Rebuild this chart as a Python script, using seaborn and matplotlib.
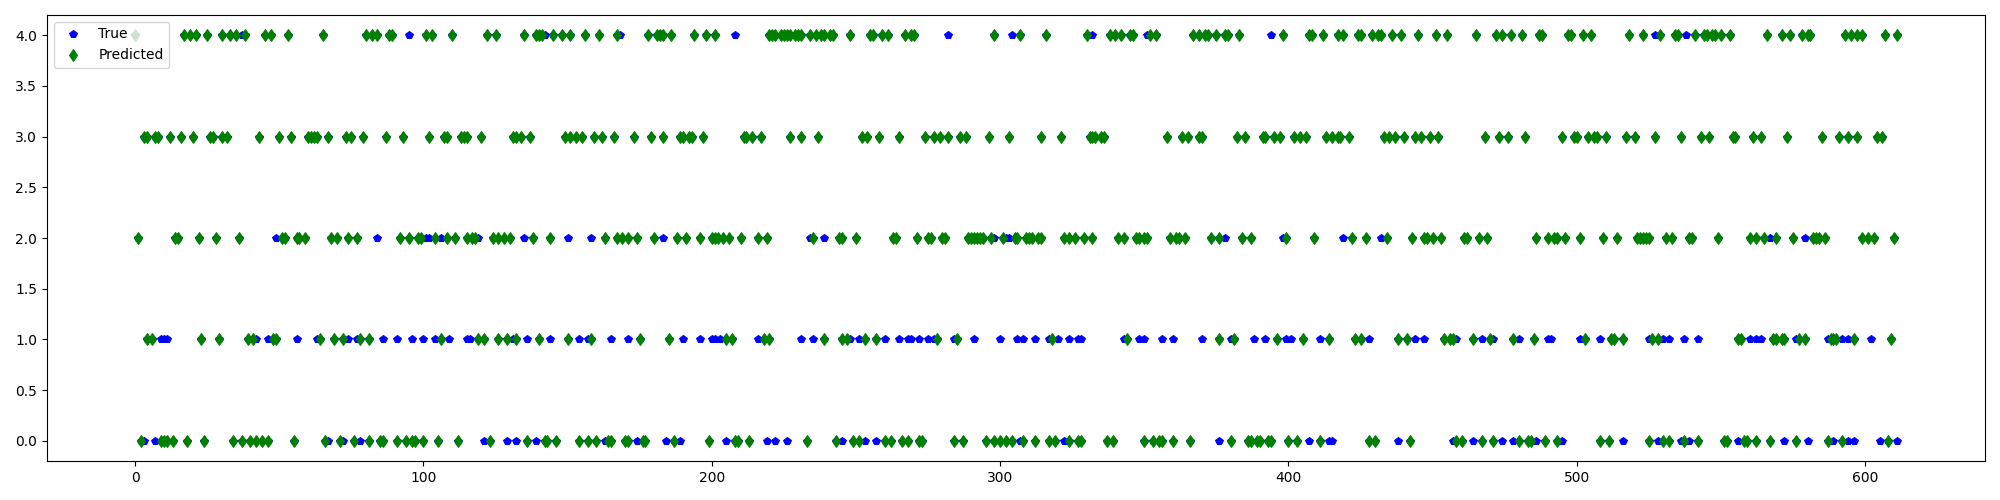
import matplotlib
matplotlib.use('Agg')
import matplotlib.pyplot as plt
import seaborn as sns

# predicted class per sample index, grouped by class (green diamonds)
pred_0 = [2, 9, 10, 11, 13, 18, 24, 34, 37, 40, 42, 44, 46, 55, 66, 71, 76, 81,
          85, 86, 91, 94, 96, 97, 100, 105, 112, 123, 136, 142, 143, 146, 154, 157, 160, 164, 165, 170, 171, 176, 177, 187,
          199, 208, 209, 213, 233, 243, 249, 251, 260, 262, 266, 268, 272, 273, 284, 287, 295, 298, 300, 302,
          304, 308, 312, 317, 319, 324, 327, 328, 337, 339, 350, 353, 355, 356, 360, 366, 380, 386, 387, 389, 390, 393, 394, 400, 403, 411,
          428, 430, 442, 458, 460, 467, 471, 480, 483, 484, 489, 493, 508, 511, 525,
          530, 532, 537, 542, 551, 552, 558, 559, 562, 567, 576, 587, 592, 608]
pred_1 = [4, 6, 23, 29, 39, 41, 48, 49, 64, 69, 72, 78, 81,
          106, 119, 121, 126, 129, 132, 140, 150, 158, 175, 185,
          205, 207, 218, 220, 239, 245, 247, 253, 257, 278, 285,
          318, 344, 376, 381, 396, 405, 414,
          423, 425, 438, 441, 454, 456, 457, 464, 470, 478, 485, 503, 512, 513, 516,
          526, 528, 556, 557, 568, 569, 571, 572, 577, 579, 588, 589, 590, 596, 609]
pred_2 = [1, 14, 15, 22, 28, 36, 51, 52, 56, 57, 59, 68, 70, 74, 77,
          92, 95, 98, 99, 104, 108, 111, 115, 117, 118, 124, 126, 128, 130, 138, 144, 163, 167, 169, 171, 174, 180, 188, 191,
          196, 200, 201, 202, 204, 206, 210, 216, 219, 235, 244, 245, 250, 263, 264, 271, 275, 276, 280, 281,
          289, 290, 291, 292, 293, 294, 297, 301,
          305, 306, 309, 310, 311, 313, 314, 322, 324, 326, 329, 332, 341, 343, 347, 348, 350, 351, 359, 361, 362, 364,
          373, 376, 384, 387, 399, 409,
          422, 427, 434, 443, 447, 448, 450, 453, 461, 462, 466, 469, 486, 490, 492, 493, 496, 501, 509, 514, 521, 522, 525,
          523, 524, 531, 533, 539, 540, 549, 560, 562, 565, 569, 575, 582, 583, 584, 586, 599, 601, 603, 610]
pred_3 = [3, 4, 7, 8, 12, 16, 20, 26, 27, 30, 32, 43, 50, 54, 60, 61, 62, 63, 67, 73, 75, 79,
          87, 93, 102, 107, 108, 113, 114, 115, 120, 131, 132, 134, 137, 149, 151, 153, 155, 159, 162, 166, 173, 179, 183,
          189, 190, 192,
          193, 197, 211, 212, 214, 217, 227, 231, 237, 252, 254, 258, 265, 274, 277, 279, 282, 286, 288, 296, 303,
          314, 321, 331, 332, 333, 335, 336, 358, 363, 365, 369, 370, 382, 385, 391, 392, 395, 397, 402, 404, 406, 413,
          415, 417, 418, 421, 433, 435, 437, 440, 444, 446, 449, 452, 468, 473, 476, 482, 495, 499, 500, 504, 506, 507,
          510, 517, 520,
          527, 536, 543, 546, 554, 555, 561, 564, 573, 585, 591, 594, 597, 604, 606]
pred_4 = [0, 17, 19, 21, 25, 30, 33, 35, 38, 45, 47, 53, 65, 80,
          82, 84, 88, 89, 101, 103, 110, 122, 125, 135, 139, 140, 141, 145, 148, 151, 156, 161, 167, 178, 181, 182, 183, 186,
          194, 198, 201, 220, 221, 222, 224, 225, 226, 227, 229, 230, 231, 234, 236, 238, 239, 241, 242, 248, 255, 256,
          259, 261, 267, 269, 270, 298,
          307, 316, 330, 338, 340, 342, 345, 346, 352, 354, 367, 369, 371, 372, 375, 378, 379, 383, 398, 407, 408, 412,
          417, 419, 424, 425, 429, 431, 432, 436, 439, 445, 451, 455, 465, 472, 474, 477, 481, 487, 488, 497, 498, 502,
          505, 518, 523,
          529, 534, 535, 541, 544, 545, 547, 548, 550, 553, 566, 571, 574, 578, 580, 581, 593, 595, 597, 599, 607, 611]

# true class where it differs from the prediction (visible blue pentagons)
miss_0 = [3, 7, 67, 72, 78, 121, 129, 132, 139, 163, 174, 184, 189, 205, 219, 222, 226, 245, 253, 257, 307, 322,
          376, 407, 414, 415, 438, 457, 464, 474, 478, 486, 495, 516, 528, 536, 539, 556, 572, 580, 589, 594, 596,
          605, 611]
miss_1 = [9, 10, 11, 42, 46, 56, 63, 74, 77, 86, 91, 96, 100, 104, 109, 115, 116, 131, 136, 144, 154, 157, 165, 171,
          190, 196, 200, 201, 203, 216, 231, 235, 248, 251, 260, 265, 268, 269, 272, 275, 277, 284, 291, 300, 306,
          308, 312, 317, 320, 324, 327, 328, 343, 348, 350, 356, 360, 370, 380, 388, 392, 399, 401, 411, 428, 444,
          447, 458, 467, 471, 480, 490, 491, 501, 508, 525, 530, 532, 537, 542, 560, 562, 564, 576, 587, 592, 594, 602]
miss_2 = [49, 84, 101, 102, 106, 119, 135, 150, 158, 183, 234, 239, 298, 302, 303, 378, 398, 419, 432, 567, 579]
miss_3 = []
miss_4 = [37, 95, 142, 168, 208, 282, 304, 332, 351, 394, 527, 538]

levels = [0, 1, 2, 3, 4]
pred_lists = [pred_0, pred_1, pred_2, pred_3, pred_4]
miss_lists = [miss_0, miss_1, miss_2, miss_3, miss_4]

pred_x, pred_y, true_x, true_y = [], [], [], []
for lvl, p, m in zip(levels, pred_lists, miss_lists):
    pred_x += p
    pred_y += [lvl] * len(p)
    t = sorted(set(p) | set(m))
    true_x += t
    true_y += [lvl] * len(t)

fig, ax = plt.subplots(figsize=(20, 5), dpi=100)
fig.subplots_adjust(left=0.0235, right=0.9925, top=0.97, bottom=0.078)

# markers only, drawn as Line2D markers (like plt.plot(..., 'bp'))
sns.lineplot(x=true_x, y=true_y, estimator=None, sort=False, linestyle='',
             marker='p', markersize=6, color='b', markeredgecolor='b',
             label='True', ax=ax)
sns.lineplot(x=pred_x, y=pred_y, estimator=None, sort=False, linestyle='',
             marker='d', markersize=6, color='g', markeredgecolor='g',
             label='Predicted', ax=ax)

ax.set_xlim(-30.55, 641.55)
ax.set_ylim(-0.2, 4.2)
ax.set_xticks(range(0, 601, 100))
ax.set_yticks([0.0, 0.5, 1.0, 1.5, 2.0, 2.5, 3.0, 3.5, 4.0])
ax.set_yticklabels(['0.0', '0.5', '1.0', '1.5', '2.0', '2.5', '3.0', '3.5', '4.0'])
ax.legend(loc='upper left')

plt.savefig('out.png')
